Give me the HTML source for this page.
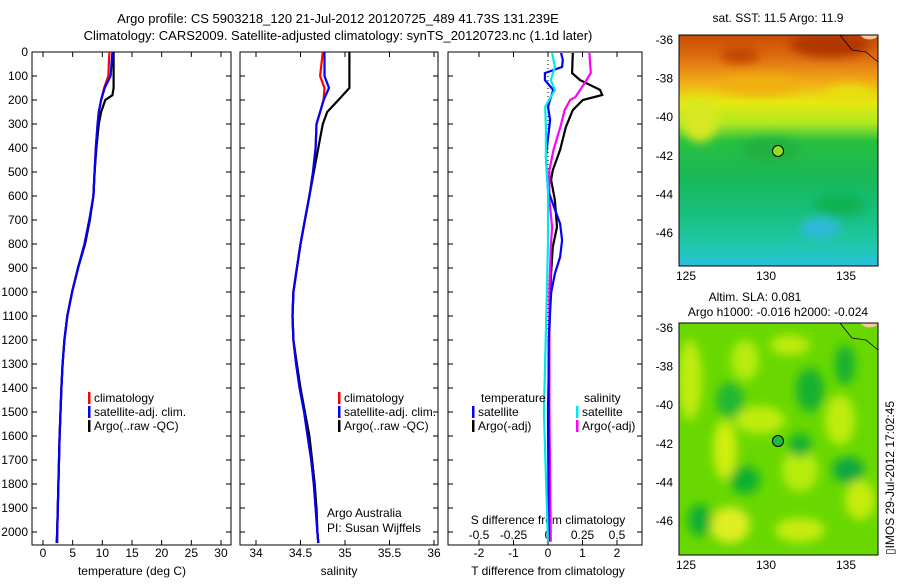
<!DOCTYPE html>
<html><head><meta charset="utf-8"><style>
body{margin:0;background:#fff;}
svg text{font-family:"Liberation Sans",sans-serif;font-size:12px;fill:#000;}
</style></head><body>
<svg id="fig" width="900" height="580" viewBox="0 0 900 580">
<defs>
<linearGradient id="sstg" x1="0" y1="0" x2="0" y2="1">
<stop offset="0" stop-color="#c84a04"/><stop offset="0.1" stop-color="#e07010"/>
<stop offset="0.2" stop-color="#f2a818"/><stop offset="0.29" stop-color="#e6ea10"/>
<stop offset="0.38" stop-color="#b0e820"/><stop offset="0.46" stop-color="#28c040"/>
<stop offset="0.62" stop-color="#18b858"/><stop offset="0.78" stop-color="#18c080"/>
<stop offset="0.92" stop-color="#20c8b0"/><stop offset="1" stop-color="#28c0e0"/>
</linearGradient>
<filter id="blur" x="-20%" y="-20%" width="140%" height="140%"><feGaussianBlur stdDeviation="5"/></filter>
<clipPath id="c1"><rect x="679" y="35" width="199" height="231"/></clipPath>
<clipPath id="c2"><rect x="679" y="323" width="199" height="232"/></clipPath>
</defs>
<g id="titles">
<text x="338" y="23" text-anchor="middle" style="font-size:13px">Argo profile: CS 5903218_120 21-Jul-2012 20120725_489 41.73S 131.239E</text>
<text x="338" y="40" text-anchor="middle" style="font-size:13px">Climatology: CARS2009. Satellite-adjusted climatology: synTS_20120723.nc (1.1d later)</text>
</g>
<g id="panels"></g>
<g id="maps">
<text x="778" y="22" text-anchor="middle">sat. SST: 11.5 Argo: 11.9</text>
<g clip-path="url(#c1)">
<rect x="679" y="35" width="199" height="231" fill="url(#sstg)"/>
<g filter="url(#blur)">
<ellipse cx="830" cy="45" rx="40" ry="12" fill="#b03400"/>
<ellipse cx="740" cy="55" rx="20" ry="8" fill="#c04404"/>
<ellipse cx="700" cy="120" rx="18" ry="22" fill="#d8e820"/>
<ellipse cx="760" cy="85" rx="40" ry="10" fill="#f0b010"/>
<ellipse cx="850" cy="95" rx="25" ry="10" fill="#e8e010"/>
<ellipse cx="840" cy="205" rx="25" ry="10" fill="#10b050"/>
<ellipse cx="820" cy="228" rx="20" ry="10" fill="#30b8e0"/>
<ellipse cx="770" cy="150" rx="30" ry="12" fill="#20b040"/>
</g>
<path d="M840,35 L852,50 L866,52 L878,62" fill="none" stroke="#000" stroke-width="0.8"/>
<path d="M860,35 Q866,42 876,38 L878,35 Z" fill="#f8c8a0"/>
</g>
<rect x="679" y="35" width="199" height="231" fill="none" stroke="#000"/>
<circle cx="778" cy="151" r="5.5" fill="#90e020" stroke="#000"/>
<text x="755" y="301" text-anchor="middle">Altim. SLA: 0.081</text>
<text x="778" y="316" text-anchor="middle">Argo h1000: -0.016 h2000: -0.024</text>
<g clip-path="url(#c2)">
<rect x="679" y="323" width="199" height="232" fill="#68d800"/>
<g filter="url(#blur)">
<ellipse cx="690" cy="380" rx="12" ry="40" fill="#c0ec10"/>
<ellipse cx="745" cy="360" rx="14" ry="20" fill="#b8ec10"/>
<ellipse cx="760" cy="420" rx="25" ry="14" fill="#c0ec10"/>
<ellipse cx="725" cy="450" rx="12" ry="30" fill="#d0ee10"/>
<ellipse cx="800" cy="470" rx="18" ry="22" fill="#b8ec10"/>
<ellipse cx="840" cy="420" rx="15" ry="25" fill="#c0ec10"/>
<ellipse cx="730" cy="525" rx="20" ry="18" fill="#e0ee20"/>
<ellipse cx="800" cy="530" rx="25" ry="12" fill="#c8ec10"/>
<ellipse cx="860" cy="500" rx="15" ry="20" fill="#c8ec10"/>
<ellipse cx="790" cy="345" rx="20" ry="10" fill="#c0ec10"/>
<ellipse cx="730" cy="400" rx="14" ry="18" fill="#20b830"/>
<ellipse cx="810" cy="390" rx="14" ry="22" fill="#18b030"/>
<ellipse cx="845" cy="365" rx="10" ry="20" fill="#18b030"/>
<ellipse cx="848" cy="470" rx="16" ry="13" fill="#10a840"/>
<ellipse cx="745" cy="480" rx="15" ry="14" fill="#10b030"/>
<ellipse cx="700" cy="520" rx="12" ry="16" fill="#10b030"/>
<ellipse cx="800" cy="445" rx="12" ry="12" fill="#18b030"/>
</g>
<path d="M840,323 L852,338 L866,340 L878,350" fill="none" stroke="#000" stroke-width="0.8"/>
<path d="M860,323 Q866,330 876,326 L878,323 Z" fill="#f8c8a0"/>
</g>
<rect x="679" y="323" width="199" height="232" fill="none" stroke="#000"/>
<circle cx="778" cy="441" r="5.5" fill="#20b840" stroke="#000"/>
<text transform="translate(894,555) rotate(-90)">▯IMOS 29-Jul-2012 17:02:45</text>
</g>
</svg>
<script>
// ---- profile data ----
const depthTempArgo=[0,150,180,200,250,300,400,500,600,700,800,900,1000,1100,1200,1300,1400,1600,1800,2000,2046];
const tempArgo=[11.9,11.9,11.7,10.5,9.8,9.4,9.0,8.7,8.5,7.9,7.1,5.9,4.9,4.1,3.6,3.3,3.1,2.8,2.6,2.4,2.4];
const depthTempClim=[0,100,150,200,250,300,400,500,600,700,800,900,1000,1100,1200,1300,1400,1600,1800,2000,2046];
const tempClim=[11.2,11.0,10.3,9.8,9.4,9.2,8.9,8.7,8.5,7.8,7.0,5.9,4.9,4.1,3.6,3.3,3.1,2.8,2.6,2.4,2.3];
const tempSat=[11.7,11.4,10.4,9.8,9.4,9.2,8.9,8.7,8.5,7.8,7.0,5.9,4.9,4.1,3.6,3.3,3.1,2.8,2.6,2.4,2.3];
const depthSalArgo=[0,150,190,250,300,400,500,600,700,800,900,1000,1100,1200,1300,1400,1500,1600,1700,1800,1900,2000,2046];
const salArgo=[35.05,35.05,34.95,34.8,34.75,34.7,34.65,34.6,34.55,34.5,34.46,34.42,34.41,34.42,34.46,34.5,34.55,34.6,34.63,34.66,34.68,34.69,34.7];
const depthSalClim=[0,100,150,200,250,300,400,500,600,700,800,900,1000,1100,1200,1300,1400,1500,1600,1700,1800,1900,2000,2046];
const salClim=[34.75,34.72,34.77,34.76,34.72,34.68,34.67,34.64,34.6,34.55,34.5,34.46,34.42,34.41,34.42,34.45,34.49,34.54,34.58,34.62,34.65,34.67,34.69,34.7];
const salSat=[34.77,34.77,34.82,34.76,34.72,34.68,34.67,34.64,34.6,34.55,34.5,34.46,34.42,34.41,34.42,34.45,34.49,34.54,34.58,34.62,34.65,34.67,34.69,34.7];
const depthDiffT=[4,88,117,158,179,200,242,312,408,492,533,617,729,812,921,1004,1500,2040];
const diffTArgo=[0.72,0.70,0.93,1.51,1.57,1.01,0.72,0.52,0.35,0.14,0.09,0.2,0.26,0.14,0.09,0.06,0.0,0.03];
const depthDiffTSat=[4,33,62,88,117,158,228,283,436,575,645,715,784,854,923,1004,1200,2040];
const diffTSat=[0.38,0.43,0.41,-0.09,-0.09,0.15,0,0.06,-0.06,0,0.17,0.35,0.41,0.35,0.2,0.09,0.02,0.01];
const depthDiffS=[4,88,125,187,200,242,312,408,492,617,729,812,1004,1500,2040];
const diffSArgo=[0.30,0.31,0.27,0.2,0.16,0.12,0.09,0.04,0.01,0.01,0.03,0.02,0.01,0.01,0.02];
const depthDiffSSat=[4,62,117,158,228,312,436,575,784,1004,1500,2040];
const diffSSat=[0.03,0.05,0.02,0.05,-0.02,-0.015,-0.015,0,0,-0.008,-0.03,0];
const depthTicks=[0,100,200,300,400,500,600,700,800,900,1000,1100,1200,1300,1400,1500,1600,1700,1800,1900,2000];
const tempTicks=[0,5,10,15,20,25,30];
const salTicks=[34,34.5,35,35.5,36];
const tdiffTicks=[-2,-1,0,1,2];
const sdiffTicks=[-0.5,-0.25,0,0.25,0.5];
const latTicks=[-36,-38,-40,-42,-44,-46];
const lonTicks=[125,130,135];

const NS='http://www.w3.org/2000/svg';
const g=document.getElementById('panels');
function el(t,a,p){const e=document.createElementNS(NS,t);for(const k in a)e.setAttribute(k,a[k]);(p||g).appendChild(e);return e;}
const yD=d=>52+d*0.24;
const PB=545;
const xT=v=>43+v*5.933;
const xS=v=>256+(v-34)*89;
const xTd=v=>548+v*34.5;
const xSd=v=>548+v*138;

function panel(name,x0,x1){
  const r=el('rect',{x:x0,y:52,width:x1-x0,height:PB-52,fill:'none',stroke:'#000'});
  
  
  depthTicks.forEach(d=>{
    el('line',{x1:x0,x2:x0+5,y1:yD(d),y2:yD(d),stroke:'#000'});
    el('line',{x1:x1-5,x2:x1,y1:yD(d),y2:yD(d),stroke:'#000'});
  });
}
function xticks(ticks,fx,ly){
  ticks.forEach(v=>{
    const x=fx(v);
    el('line',{x1:x,x2:x,y1:52,y2:57,stroke:'#000'});
    el('line',{x1:x,x2:x,y1:PB-5,y2:PB,stroke:'#000'});
    const t=el('text',{x:x,y:ly,'text-anchor':'middle'});t.textContent=String(v);
    
    
  });
}
function line(name,ds,vs,fx,color){
  const pts=ds.map((d,i)=>fx(vs[i]).toFixed(1)+','+yD(d).toFixed(1)).join(' ');
  const p=el('polyline',{points:pts,fill:'none',stroke:color,'stroke-width':2.2});
  
  
}
function txt(s,x,y,anchor){const t=el('text',{x:x,y:y,'text-anchor':anchor||'start'});t.textContent=s;return t;}
function legItem(x,y,color,label){
  el('rect',{x:x,y:y-10,width:2.5,height:12,fill:color});
  const t=txt(label,x+6,y);
  
  
}

// panel 1 temperature
panel('temperature-panel',32,231);
depthTicks.forEach(d=>{const t=txt(String(d),28,yD(d)+4,'end');
  
  });
xticks(tempTicks,xT,557);
txt('temperature (deg C)',132,575,'middle');
line('temp-climatology',depthTempClim,tempClim,xT,'#ff0000');
line('temp-argo',depthTempArgo,tempArgo,xT,'#000000');
line('temp-satellite-adj',depthTempClim,tempSat,xT,'#0000ff');
legItem(88,402,'#ff0000','climatology');legItem(88,416,'#0000ff','satellite-adj. clim.');legItem(88,430,'#000000','Argo(..raw -QC)');

// panel 2 salinity
panel('salinity-panel',240,438);
xticks(salTicks,xS,557);
txt('salinity',339,575,'middle');
line('sal-climatology',depthSalClim,salClim,xS,'#ff0000');
line('sal-argo',depthSalArgo,salArgo,xS,'#000000');
line('sal-satellite-adj',depthSalClim,salSat,xS,'#0000ff');
legItem(338,402,'#ff0000','climatology');legItem(338,416,'#0000ff','satellite-adj. clim.');legItem(338,430,'#000000','Argo(..raw -QC)');
txt('Argo Australia',327,517);txt('PI: Susan Wijffels',327,532);

// panel 3 differences
panel('difference-panel',448,642);
el('line',{x1:548,x2:548,y1:52,y2:PB,stroke:'#000','stroke-dasharray':'1,3'});
xticks(tdiffTicks,xTd,557);
sdiffTicks.forEach(v=>{const t=txt(String(v),xSd(v),539,'middle');
  
  });
txt('S difference from climatology',548,524,'middle');
txt('T difference from climatology',548,575,'middle');
line('tdiff-argo',depthDiffT,diffTArgo,xTd,'#000000');
line('sdiff-argo',depthDiffS,diffSArgo,xSd,'#ff00ff');
line('tdiff-satellite',depthDiffTSat,diffTSat,xTd,'#0000ff');
line('sdiff-satellite',depthDiffSSat,diffSSat,xSd,'#00e8e8');
txt('temperature',481,402);txt('salinity',584,402);
legItem(472,416,'#0000ff','satellite');legItem(472,430,'#000000','Argo(-adj)');
legItem(576,416,'#00e8e8','satellite');legItem(576,430,'#ff00ff','Argo(-adj)');

// maps axes
const yLat1=v=>40+(-36-v)*19.3, yLat2=v=>328+(-36-v)*19.3, xLon=v=>686+(v-125)*16;
latTicks.forEach(v=>{
  [yLat1,yLat2].forEach(f=>{
    const y=f(v);
    el('line',{x1:679,x2:683,y1:y,y2:y,stroke:'#000'});
    el('line',{x1:874,x2:878,y1:y,y2:y,stroke:'#000'});
    const t=txt(String(v),673,y+4,'end');
    
    
  });
});
lonTicks.forEach(v=>{
  const x=xLon(v);
  [[35,266,280],[323,555,569]].forEach(([t0,b,ly])=>{
    el('line',{x1:x,x2:x,y1:t0,y2:t0+4,stroke:'#000'});
    el('line',{x1:x,x2:x,y1:b-4,y2:b,stroke:'#000'});
    const t=txt(String(v),x,ly,'middle');
    
    
  });
});
</script>
</body></html>
